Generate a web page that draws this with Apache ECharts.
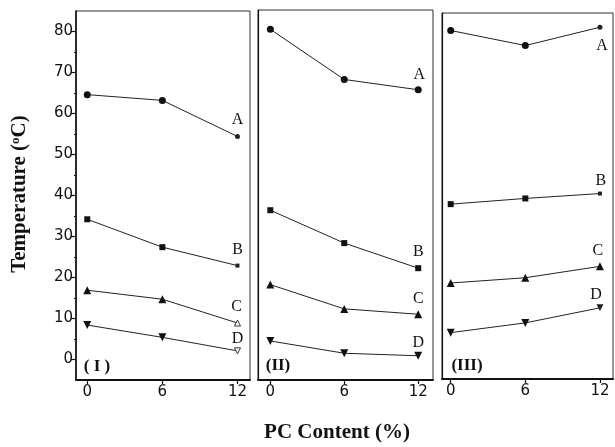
<!DOCTYPE html>
<html>
<head>
<meta charset="utf-8">
<script src="https://cdn.jsdelivr.net/npm/echarts@6/dist/echarts.min.js"></script>
<style>
  html, body { margin: 0; padding: 0; background: #fff; }
  #chart { width: 615px; height: 447px; }
</style>
</head>
<body>
<div id="chart"></div>
<script>
// PC content (%) on the x axis, transition temperatures (°C) per panel
const pcContent = [0, 6, 12];
const xTicks = [0, 6, 12];
const yTicks = [0, 10, 20, 30, 40, 50, 60, 70, 80];
const yMinorTicks = [5, 15, 25, 35, 45, 55, 65, 75];
const seriesNames = ['A', 'B', 'C', 'D'];
const panelNames = ['( I )', '(II)', '(III)'];

// Panel I
const p1A = [64.6, 63.2, 54.4];
const p1B = [34.2, 27.4, 22.9];
const p1C = [16.9, 14.7, 8.9];
const p1D = [8.4, 5.4, 2.1];
// Panel II
const p2A = [80.3, 68.1, 65.6];
const p2B = [36.3, 28.3, 22.2];
const p2C = [18.2, 12.3, 11.0];
const p2D = [4.5, 1.5, 0.9];
// Panel III
const p3A = [80.7, 77.0, 81.5];
const p3B = [38.0, 39.4, 40.6];
const p3C = [18.6, 19.9, 22.7];
const p3D = [6.4, 8.8, 12.5];

const panels = [[p1A, p1B, p1C, p1D], [p2A, p2B, p2C, p2D], [p3A, p3B, p3C, p3D]];

const grids = [
  { left: 76, top: 11, width: 174, height: 369 },
  { left: 258, top: 10, width: 175, height: 370 },
  { left: 442, top: 13, width: 171, height: 366 }
];
const xRanges = [[-0.9, 13.0], [-1.0, 13.2], [-0.7, 13.05]];
const symbols = ['circle', 'rect', 'triangle', 'triangle'];
const symbolSizes = [7, 6, 8, 8];
const symbolRot = [0, 0, 0, 180];

// the 12 % points that were printed faintly (smaller / hollow glyphs)
const faintEnd = [
  [{ size: 5 }, { size: 4 }, { size: 6, hollow: true }, { size: 6, hollow: true }],
  [null, null, null, null],
  [{ size: 5 }, { size: 4 }, null, { size: 7 }]
];

const ink = '#111';
const tickFont = { fontFamily: 'DejaVu Sans, Verdana, sans-serif', fontSize: 15, color: ink };
const serif = 'Liberation Serif, Times New Roman, serif';

const option = {
  animation: false,
  backgroundColor: '#fff',
  grid: grids.map(g => Object.assign({ show: true, borderColor: '#333', borderWidth: 1 }, g)),
  xAxis: grids.map((g, i) => ({
    type: 'value', gridIndex: i, min: xRanges[i][0], max: xRanges[i][1],
    axisLine: { show: true, onZero: false, lineStyle: { color: ink, width: 2 } },
    axisTick: { show: true, customValues: xTicks, length: 4, lineStyle: { color: ink, width: 1.2 } },
    axisLabel: Object.assign({ customValues: xTicks, margin: 5 }, tickFont),
    splitLine: { show: false }
  })),
  yAxis: [],
  series: [],
  graphic: []
};

grids.forEach((g, i) => {
  option.yAxis.push({
    type: 'value', gridIndex: i, min: -5, max: 85,
    axisLine: { show: true, onZero: false, lineStyle: { color: ink, width: i === 0 ? 1.6 : 1.2 } },
    axisTick: { show: i === 0, customValues: yTicks, length: 5, lineStyle: { color: ink, width: 1.2 } },
    axisLabel: Object.assign({ show: i === 0, customValues: yTicks, margin: 3 }, tickFont),
    splitLine: { show: false }
  });
});
// minor ticks on the left axis of panel I
option.yAxis.push({
  type: 'value', gridIndex: 0, min: -5, max: 85, position: 'left', offset: 0,
  axisLine: { show: false, onZero: false },
  axisTick: { show: true, customValues: yMinorTicks, length: 2, lineStyle: { color: ink, width: 1 } },
  axisLabel: { show: false },
  splitLine: { show: false }
});

// label offsets for the A-D tags next to the last point of each curve
const tagOffsets = [
  [[0, -17], [0, -16], [-1, -16], [0, -12]],
  [[1, -15], [0, -16], [0, -15], [0, -13]],
  [[2, 19], [1, -13], [-2, -16], [-4, -13]]
];

panels.forEach((curves, pi) => {
  curves.forEach((vals, si) => {
    const data = vals.map((v, k) => {
      const item = { value: [pcContent[k], v] };
      if (k === vals.length - 1) {
        item.label = {
          show: true, position: 'inside', formatter: seriesNames[si],
          offset: tagOffsets[pi][si],
          fontFamily: serif, fontSize: 16, color: ink
        };
        const f = faintEnd[pi][si];
        if (f) {
          item.symbolSize = f.size;
          if (f.hollow) item.itemStyle = { color: '#fff', borderColor: '#333', borderWidth: 1 };
          else item.itemStyle = { color: '#222' };
        }
      }
      return item;
    });
    option.series.push({
      type: 'line', xAxisIndex: pi, yAxisIndex: pi,
      data: data,
      symbol: symbols[si], symbolSize: symbolSizes[si], symbolRotate: symbolRot[si],
      lineStyle: { color: '#222', width: 1 },
      itemStyle: { color: ink },
      label: { show: false },
      z: 3
    });
  });
});

// panel tags
const tagPos = [[97, 367], [278, 366], [467, 366]];
panelNames.forEach((t, i) => {
  option.graphic.push({
    type: 'text', x: tagPos[i][0], y: tagPos[i][1],
    style: { text: t, font: 'bold 17px ' + serif, fill: ink, align: 'center', verticalAlign: 'middle' }
  });
});
// axis titles
option.graphic.push({
  type: 'text', x: 337, y: 433,
  style: { text: 'PC Content (%)', font: 'bold 21px ' + serif, fill: ink, align: 'center', verticalAlign: 'middle' }
});
option.graphic.push({
  type: 'text', x: 20, y: 194, rotation: Math.PI / 2,
  style: {
    text: 'Temperature ({sup|o}C)', font: 'bold 21px ' + serif, fill: ink,
    align: 'center', verticalAlign: 'middle',
    rich: { sup: { font: 'bold 13px ' + serif, fill: ink, verticalAlign: 'top', padding: [0, 0, 8, 0] } }
  }
});

const chart = echarts.init(document.getElementById('chart'), null, { renderer: 'canvas' });
chart.setOption(option);
</script>
</body>
</html>
